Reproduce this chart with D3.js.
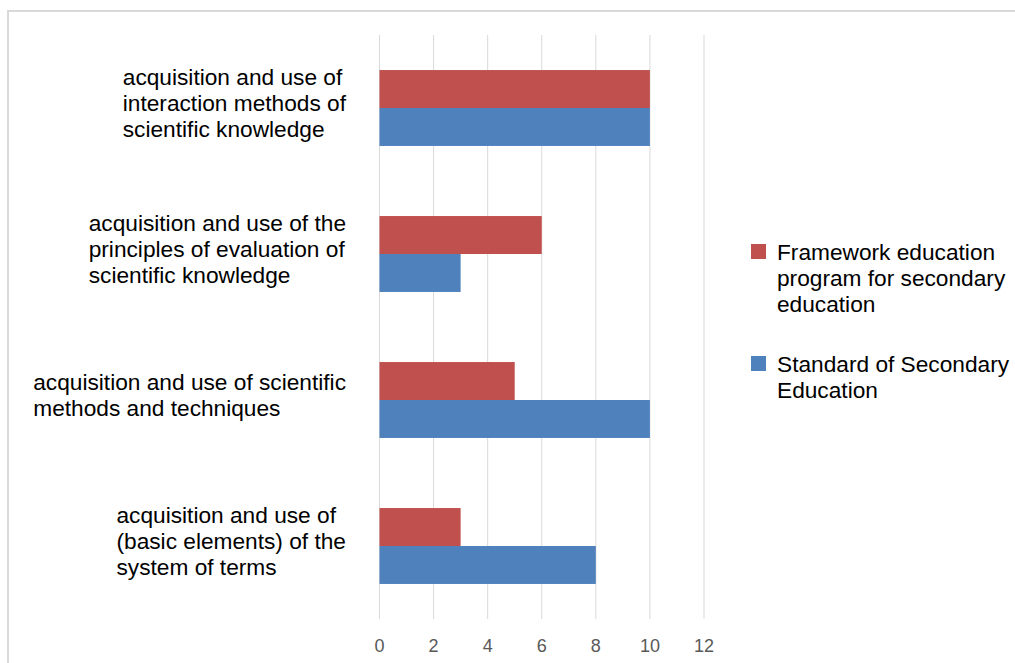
<!DOCTYPE html>
<html>
<head>
<meta charset="utf-8">
<script src="https://cdn.jsdelivr.net/npm/d3@7"></script>
<style>
  body { margin: 0; background: #fff; }
  svg { display: block; }
  text { font-family: "Liberation Sans", Arial, sans-serif; }
</style>
</head>
<body>
<script>
// categories, top to bottom, each split into its lines
var categories = [
  ["acquisition and use of", "interaction methods of", "scientific knowledge"],
  ["acquisition and use of the", "principles of evaluation of", "scientific knowledge"],
  ["acquisition and use of scientific", "methods and techniques"],
  ["acquisition and use of", "(basic elements) of the", "system of terms"]
];
var seriesNames = [
  ["Framework education", "program for secondary", "education"],
  ["Standard of Secondary", "Education"]
];
var framework = [10, 6, 5, 3];
var standard  = [10, 3, 10, 8];
var ticks = [0, 2, 4, 6, 8, 10, 12];
var colors = ["#c0504d", "#4f81bd"];

var W = 1015, H = 663;
var svg = d3.select("body").append("svg").attr("width", W).attr("height", H);

// outer frame of the chart area
svg.append("rect")
  .attr("x", 8).attr("y", 11).attr("width", W + 20).attr("height", H + 20)
  .attr("fill", "none").attr("stroke", "#d9d9d9").attr("stroke-width", 2);

var x = d3.scaleLinear().domain([0, 12]).range([379.5, 704]);
var y = d3.scaleBand().domain(d3.range(categories.length)).range([35, 619])
  .paddingInner(0.48).paddingOuter(0.24);
var ySub = d3.scaleBand().domain([0, 1]).range([0, y.bandwidth()]);

// vertical gridlines
svg.append("g").selectAll("line")
  .data(ticks)
  .enter().append("line")
  .attr("x1", function(d){ return x(d); })
  .attr("x2", function(d){ return x(d); })
  .attr("y1", 35).attr("y2", 619)
  .attr("stroke", "#d9d9d9").attr("stroke-width", 1);

// tick labels
svg.append("g").selectAll("text")
  .data(ticks)
  .enter().append("text")
  .attr("x", function(d){ return x(d); })
  .attr("y", 652)
  .attr("text-anchor", "middle")
  .attr("font-size", 18)
  .attr("fill", "#595959")
  .text(function(d){ return d; });

// bars: framework on top, standard below
var series = [framework, standard];
series.forEach(function(vals, s) {
  svg.append("g").selectAll("rect")
    .data(vals)
    .enter().append("rect")
    .attr("x", x(0))
    .attr("y", function(d, i){ return y(i) + ySub(s); })
    .attr("width", function(d){ return x(d) - x(0); })
    .attr("height", ySub.bandwidth())
    .attr("fill", colors[s]);
});

// category labels: block of left-aligned lines, block right edge near the axis
var lineH = 26, fs = 22.7;
categories.forEach(function(lines, i) {
  var cy = y(i) + y.bandwidth() / 2 - 5;
  var t = svg.append("text").attr("font-size", fs).attr("fill", "#000");
  var top = cy - (lines.length - 1) * lineH / 2;
  t.selectAll("tspan")
    .data(lines)
    .enter().append("tspan")
    .attr("y", function(d, k){ return top + k * lineH; })
    .attr("dy", "0.35em")
    .text(function(d){ return d; });
  var w = 0;
  t.selectAll("tspan").each(function(){ w = Math.max(w, this.getComputedTextLength()); });
  t.selectAll("tspan").attr("x", 346 - w);
});

// legend
var legendTop = [252, 364];
seriesNames.forEach(function(lines, s) {
  var ly = legendTop[s];
  svg.append("rect")
    .attr("x", 751).attr("y", ly - 8).attr("width", 15).attr("height", 15)
    .attr("fill", colors[s]);
  svg.append("text").attr("font-size", fs).attr("fill", "#000")
    .selectAll("tspan")
    .data(lines)
    .enter().append("tspan")
    .attr("x", 777)
    .attr("y", function(d, k){ return ly + k * lineH; })
    .attr("dy", "0.35em")
    .text(function(d){ return d; });
});
</script>
</body>
</html>
